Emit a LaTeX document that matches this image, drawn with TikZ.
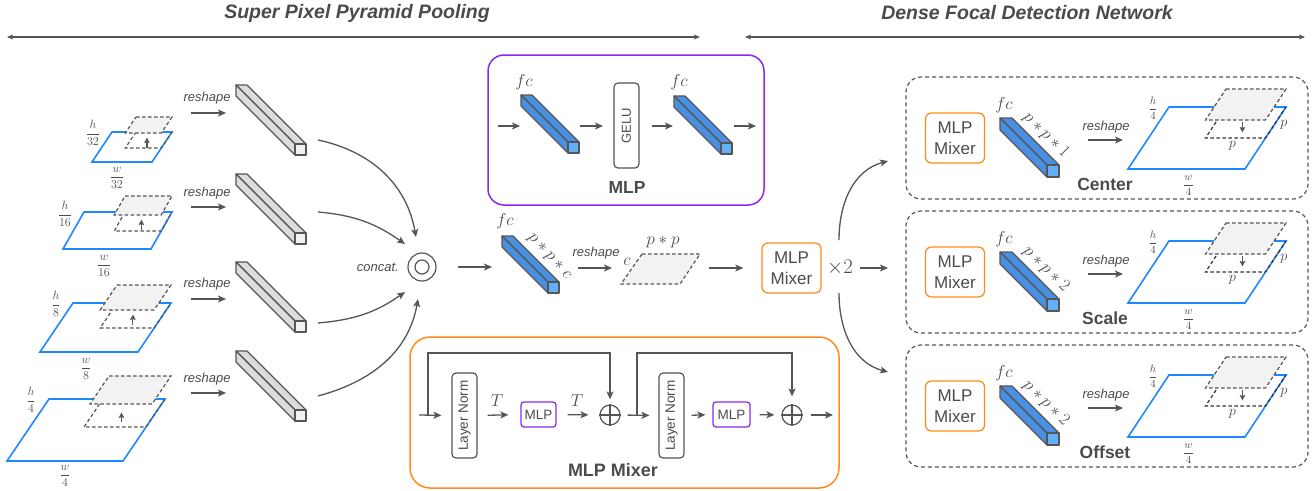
\documentclass[tikz,border=0pt]{standalone}
\usepackage{amsmath}
\usepackage[no-math]{fontspec}
\setmainfont{Liberation Sans}
\setsansfont{Liberation Sans}
\usetikzlibrary{arrows.meta,calc}
\definecolor{tg}{RGB}{75,75,75}
\definecolor{lg}{RGB}{85,85,85}
\definecolor{bl}{RGB}{30,136,255}
\definecolor{barb}{RGB}{74,144,226}
\definecolor{barf}{RGB}{100,175,250}
\definecolor{gbar}{RGB}{220,220,220}
\definecolor{gbarf}{RGB}{242,242,242}
\definecolor{pur}{RGB}{140,40,240}
\definecolor{org}{RGB}{255,140,26}
\definecolor{pf}{RGB}{242,242,242}
\newcommand\fs[1]{\fontsize{#1}{#1}\selectfont}
\tikzset{
 arr/.style={draw=lg, line width=1.3pt, -{Stealth[length=8pt,width=7pt,inset=2pt]}},
 harr/.style={draw=lg, line width=1.4pt, {Stealth[length=6pt,width=5pt,inset=1.5pt]}-{Stealth[length=6pt,width=5pt,inset=1.5pt]}},
 barline/.style={draw=lg, line width=1.1pt, line join=round},
 blueln/.style={draw=bl, line width=1.6pt},
 pinp/.style={draw=lg, line width=1.2pt, dash pattern=on 3.5pt off 2.5pt},
 pinr/.style={draw=black!80, line width=1.2pt, dash pattern=on 3.5pt off 2.5pt},
 pupp/.style={pinp, fill=pf},
 parr/.style={draw=lg, line width=1.2pt, -{Stealth[length=5.5pt,width=5.5pt,inset=1pt]}},
 lbl/.style={text=tg, inner sep=0pt},
 rs/.style={lbl, font=\fs{13}\itshape},
 fr/.style={lbl, font=\fs{13}},
 frs/.style={lbl, font=\fs{11}},
 mth/.style={lbl, font=\fs{17}},
 ttl/.style={lbl, font=\fs{17.5}\bfseries},
 mixb/.style={draw=org, line width=1.3pt, rounded corners=6pt, minimum width=59pt, minimum height=50pt, align=center, text=tg, inner sep=0pt, font=\fontsize{17}{21}\selectfont},
 vbox/.style={draw=lg, line width=1.2pt, rounded corners=4pt, minimum width=25pt, minimum height=85pt, inner sep=0pt},
 sbox/.style={draw=pur, line width=1.3pt, rounded corners=3pt, minimum height=25pt, inner sep=0pt, text=tg, font=\fs{13.5}},
 opc/.style={draw=lg, line width=1.2pt, circle, minimum size=20pt, inner sep=0pt},
 dbox/.style={draw=lg, line width=1.2pt, dash pattern=on 4pt off 3pt, rounded corners=15pt, inner sep=0pt},
}
% cuboid: front top-left (screen x, screen y), length, size, side fill, front fill
\newcommand\cuboid[6]{%
 \filldraw[barline,fill=#5] ({#1-#3},{-#2+#3}) -- ({#1-#3+#4},{-#2+#3}) -- ({#1+#4},{-#2}) -- (#1,{-#2}) -- cycle;
 \filldraw[barline,fill=#5] ({#1-#3},{-#2+#3}) -- (#1,{-#2}) -- (#1,{-#2-#4}) -- ({#1-#3},{-#2+#3-#4}) -- cycle;
 \filldraw[barline,fill=#6] (#1,{-#2}) rectangle ({#1+#4},{-#2-#4});
}
% pyramid level: x0 yb W H S pw ph ex elev  (screen coords, y down)
\newcommand\pyr[9]{%
 \pgfmathsetmacro\pTx{#1+#3+#5}%
 \pgfmathsetmacro\pTy{#2-#4}%
 \pgfmathsetmacro\pSh{#5*#7/#4}%
 \draw[blueln] (#1,{-#2}) -- ({#1+#3},{-#2}) -- (\pTx,{-\pTy}) -- ({#1+#5},{-\pTy}) -- cycle;
 \draw[\pinstyle] ({\pTx-#6},{-\pTy}) -- ({\pTx-#6-\pSh},{-\pTy-#7}) -- ({\pTx-\pSh},{-\pTy-#7}) -- (\pTx,{-\pTy});
 \filldraw[pupp] ({\pTx-#6+#8},{-\pTy+#9}) -- ({\pTx+#8},{-\pTy+#9}) -- ({\pTx+#8-\pSh},{-\pTy+#9-#7}) -- ({\pTx-#6+#8-\pSh},{-\pTy+#9-#7}) -- cycle;
 \pgfmathsetmacro\pAy{\pTy+0.66*#7}%
 \pgfmathsetmacro\pAx{\pTx-#6/2-#5*(\pAy-\pTy)/#4}%
 \draw[parr] (\pAx,{-\pAy-5*(\pd)}) -- (\pAx,{-\pAy+5*(\pd)});
 \coordinate (TL) at ({#1+#5},{-\pTy});
 \coordinate (TR) at (\pTx,{-\pTy});
 \coordinate (BC) at ({#1+#3/2},{-#2});
 \coordinate (PB) at ({\pTx-#6/2-\pSh},{-\pTy-#7});
}
% right detection box: top, label, rotated text, name
\newcommand\rbox[4]{%
 \pgfmathsetmacro\rT{#1}%
 \pgfmathsetmacro\rFy{#1+88}%
 \pgfmathsetmacro\rYb{#1+92}%
 \node[dbox, minimum width=402pt, minimum height=122pt] (#4) at (1107,{-\rT-61}) {};
 \node[mixb] (#4m) at (955,{-\rT-61}) {MLP\\Mixer};
 \cuboid{1047}{\rFy}{47}{12}{barb}{barf}
 \node[mth] (#4fc) at (1004,{-\rT-28}) {$fc$};
 \node[mth, rotate=-45] (#4pt) at (1046,{-\rT-58}) {#3};
 \node[rs] (#4rs) at (1106,{-\rT-50}) {reshape};
 \coordinate (#4a) at (1088,{-\rT-63});
 \coordinate (#4b) at (1123,{-\rT-63});
 \draw[arr] (#4a) -- (#4b);
 \def\pd{-1}\def\pinstyle{pinr}%
 \pyr{1128}{\rYb}{117}{62}{41}{60}{31}{0}{18}
 \node[frs] (#4h) at ($(TL)+(-16,-1)$) {$\dfrac{h}{4}$};
 \node[frs] (#4w) at ($(BC)+(2,-17)$) {$\dfrac{w}{4}$};
 \node[lbl, font=\fs{15}] (#4p1) at ($(TR)+(-2,-18)$) {$p$};
 \node[lbl, font=\fs{15}] (#4p2) at ($(PB)+(-3,-8)$) {$p$};
 \node[ttl] (#4l) at (1105,{-\rT-107}) {#2};
}
\begin{document}
\begin{tikzpicture}[x=1pt,y=1pt]
\useasboundingbox (0,0) rectangle (1313,-490);
% headers
\node[lbl, font=\fs{19.5}\bfseries\itshape] (hd1) at (357,-13) {Super Pixel Pyramid Pooling};
\node[lbl, font=\fs{19.5}\bfseries\itshape] (hd2) at (1027,-13) {Dense Focal Detection Network};
\coordinate (a1l) at (7,-37); \coordinate (a1r) at (700,-37);
\coordinate (a2l) at (745,-37); \coordinate (a2r) at (1305,-37);
\draw[harr] (a1l) -- (a1r);
\draw[harr] (a2l) -- (a2r);
% left pyramid
\def\pd{1}\def\pinstyle{pinp}
\pyr{92}{162}{60}{30}{20}{36}{16}{0}{15}
\node[fr] (h32) at ($(TL)+(-19,-1)$) {$\dfrac{h}{32}$};
\node[fr] (w32) at ($(BC)+(-5,-16)$) {$\dfrac{w}{32}$};
\pyr{63}{249}{88}{37}{21}{47}{19}{0}{16}
\node[fr] (h16) at ($(TL)+(-19,-2)$) {$\dfrac{h}{16}$};
\node[fr] (w16) at ($(BC)+(-3,-17)$) {$\dfrac{w}{16}$};
\pyr{40}{352}{98}{49}{33}{54}{25}{0}{18}
\node[fr] (h8) at ($(TL)+(-17,-1)$) {$\dfrac{h}{8}$};
\node[fr] (w8) at ($(BC)+(-3,-17)$) {$\dfrac{w}{8}$};
\pyr{7}{461}{116}{62}{42}{62}{28}{6}{23}
\node[fr] (h4) at ($(TL)+(-18,-1)$) {$\dfrac{h}{4}$};
\node[fr] (w4) at ($(BC)+(0,-15)$) {$\dfrac{w}{4}$};
% reshape arrows and gray bars
\foreach \ty/\ay/\fy [count=\i] in {98/113/144, 193/207/233, 284/299/321, 379/393/410}{
 \node[rs] (rsl\i) at (207,-\ty) {reshape};
 \coordinate (rla\i) at (191,-\ay);
 \coordinate (rlb\i) at (226,-\ay);
 \draw[arr] (rla\i) -- (rlb\i);
 \cuboid{295}{\fy}{59}{11}{gbar}{gbarf}
}
% concat
\node[circle, draw=lg, line width=1.2pt, minimum size=28pt, inner sep=0pt] (cc) at (422,-267) {};
\node[circle, draw=lg, line width=1.2pt, minimum size=14pt, inner sep=0pt] (cci) at (cc) {};
\node[lbl, font=\fs{13}\itshape, anchor=east] (cct) at (399,-267) {concat.};
\coordinate (b1o) at (318,-140); \coordinate (b1e) at (416,-237);
\coordinate (b2o) at (318,-212); \coordinate (b2e) at (405,-244);
\coordinate (b3o) at (318,-323); \coordinate (b3e) at (405,-292);
\coordinate (b4o) at (318,-396); \coordinate (b4e) at (418,-299);
\draw[arr] (b1o) to[out=-12,in=100] (b1e);
\draw[arr] (b2o) to[out=-5,in=145] (b2e);
\draw[arr] (b3o) to[out=5,in=-145] (b3e);
\draw[arr] (b4o) to[out=15,in=-100] (b4e);
% middle row
\coordinate (m1b) at (492,-267);
\draw[arr, shorten <=21pt] (cc) -- (m1b);
\cuboid{548}{282}{46}{11}{barb}{barf}
\node[mth] (fcm) at (505,-221) {$fc$};
\node[mth, rotate=-47] (ppc) at (549,-257) {$p*p*c$};
\node[rs] (rsm) at (596,-253) {reshape};
\coordinate (rma) at (578,-268); \coordinate (rmb) at (612,-268);
\draw[arr] (rma) -- (rmb);
\filldraw[pupp] (642,-254) coordinate (pq1) -- (700,-254) -- (680,-284) -- (621,-284) -- cycle;
\node[mth] (pc) at (627,-262) {$c$};
\node[mth] (ppl) at (663,-242) {$p*p$};
\coordinate (mma) at (709,-268);
\node[mixb] (mm) at (791.5,-268) {MLP\\Mixer};
\draw[arr, shorten >=18pt] (mma) -- (mm.west);
\node[lbl, font=\fs{20}] (x2) at (840,-268) {$\times2$};
\coordinate (xra) at (860,-268); \coordinate (xrb) at (888,-268);
\draw[arr] (xra) -- (xrb);
\coordinate (xua) at (839,-240); \coordinate (xub) at (888,-161);
\draw[arr] (xua) to[out=90,in=195] (xub);
\coordinate (xda) at (839,-293); \coordinate (xdb) at (888,-372);
\draw[arr] (xda) to[out=-90,in=165] (xdb);
% MLP box
\node[draw=pur, line width=1.5pt, rounded corners=16pt, minimum width=276pt, minimum height=150pt, inner sep=0pt] (mlpbox) at (626,-130) {};
\coordinate (q1) at (498,-126); \coordinate (q2) at (520,-126);
\coordinate (q3) at (580,-126); \coordinate (q4) at (603,-126);
\coordinate (q5) at (652,-126); \coordinate (q6) at (673,-126);
\coordinate (q7) at (734,-126); \coordinate (q8) at (756,-126);
\draw[arr] (q1) -- (q2); \draw[arr] (q3) -- (q4); \draw[arr] (q5) -- (q6); \draw[arr] (q7) -- (q8);
\cuboid{568}{142}{47}{11}{barb}{barf}
\cuboid{721}{143}{47}{11}{barb}{barf}
\node[mth] (fc1) at (524,-82) {$fc$};
\node[mth] (fc2) at (679,-82) {$fc$};
\node[vbox] (gelu) at (626.5,-125.5) {};
\node[lbl, rotate=90, font=\fs{13}] (gelut) at (gelu) {GELU};
\node[ttl] (mlpt) at (627,-187) {MLP};
% MLP Mixer box
\node[draw=org, line width=1.5pt, rounded corners=20pt, minimum width=429pt, minimum height=151pt, inner sep=0pt] (mixbox) at (624.5,-412.5) {};
\node[vbox] (ln1) at (464.5,-415.5) {};
\node[lbl, rotate=90, font=\fs{13.5}] (ln1t) at (ln1) {Layer Norm};
\node[sbox, minimum width=35pt] (mlp1) at (538.5,-414.5) {MLP};
\node[opc] (op1) at (610,-415) {};
\draw[draw=lg, line width=1.2pt] (op1.north) -- (op1.south) (op1.west) -- (op1.east);
\node[vbox] (ln2) at (671.5,-415.5) {};
\node[lbl, rotate=90, font=\fs{13.5}] (ln2t) at (ln2) {Layer Norm};
\node[sbox, minimum width=37pt] (mlp2) at (731.5,-414.5) {MLP};
\node[opc] (op2) at (792,-415) {};
\draw[draw=lg, line width=1.2pt] (op2.north) -- (op2.south) (op2.west) -- (op2.east);
\coordinate (mxin) at (419,-415);
\coordinate (mxout) at (833,-415);
\coordinate (sk1) at (428,-415);
\coordinate (sk2) at (637,-415);
\draw[arr, shorten >=10pt] (mxin) -- (ln1.west);
\draw[arr, shorten <=10pt, shorten >=12pt] (ln1.east) -- (mlp1.west);
\draw[arr, shorten <=11pt, shorten >=11pt] (mlp1.east) -- (op1.west);
\draw[arr, shorten <=7pt, shorten >=9pt] (op1.east) -- (ln2.west);
\draw[arr, shorten <=7pt, shorten >=7pt] (ln2.east) -- (mlp2.west);
\draw[arr, shorten <=9pt, shorten >=7pt] (mlp2.east) -- (op2.west);
\draw[arr, shorten <=8pt] (op2.east) -- (mxout);
\draw[arr, shorten >=5pt] (sk1) -- ++(0,62) -| (op1.north);
\draw[arr, shorten >=8pt] (sk2) -- ++(0,62) -| (op2.north);
\node[mth] (t1) at (497,-401) {$T$};
\node[mth] (t2) at (577,-401) {$T$};
\node[ttl, font=\fs{18}\bfseries] (mixt) at (613,-470) {MLP Mixer};
% right side
\rbox{77}{Center}{$p*p*1$}{cb}
\rbox{211}{Scale}{$p*p*2$}{sb}
\rbox{345}{Offset}{$p*p*2$}{ob}
\end{tikzpicture}
\end{document}
